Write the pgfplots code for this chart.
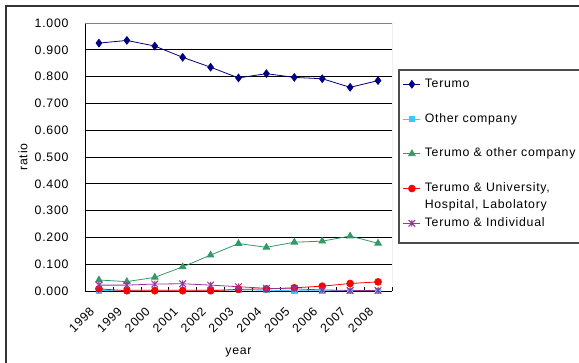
\documentclass[border=0pt]{standalone}
\usepackage{fontspec}
\setmainfont{Liberation Sans}[LetterSpace=6]
\usepackage{pgfplots}
\pgfplotsset{compat=1.18}
\definecolor{cNavy}{HTML}{000080}
\definecolor{cCyan}{HTML}{33CCFF}
\definecolor{cGreen}{HTML}{339966}
\definecolor{cRed}{HTML}{FF0000}
\definecolor{cPurple}{HTML}{993399}
\pgfdeclareplotmark{xstar}{%
 \pgfpathmoveto{\pgfqpoint{-\pgfplotmarksize}{-\pgfplotmarksize}}\pgfpathlineto{\pgfqpoint{\pgfplotmarksize}{\pgfplotmarksize}}%
 \pgfpathmoveto{\pgfqpoint{-\pgfplotmarksize}{\pgfplotmarksize}}\pgfpathlineto{\pgfqpoint{\pgfplotmarksize}{-\pgfplotmarksize}}%
 \pgfpathmoveto{\pgfqpoint{0pt}{-\pgfplotmarksize}}\pgfpathlineto{\pgfqpoint{0pt}{\pgfplotmarksize}}%
 \pgfusepathqstroke}
\begin{document}
\begin{tikzpicture}
\useasboundingbox (0,0) rectangle (579bp,363bp);
\clip (0,0) rectangle (579bp,363bp);
\draw[line width=1.2bp, black!80] (6bp,-10bp) -- (6bp,357bp) -- (600bp,357bp);
\draw[line width=1.2bp, black!70] (399bp,120bp) rectangle (600bp,293bp);
\begin{axis}[
  at={(85bp,72bp)}, anchor=south west, scale only axis,
  width=307bp, height=268bp,
  xmin=-0.5, xmax=10.5, ymin=0, ymax=1,
  axis x line*=bottom, axis y line*=left,
  axis line style={-, black, line width=0.9bp},
  font=\fontsize{12.3bp}{14bp}\selectfont,
  /pgf/number format/assume math mode=true,
  xtick={0,...,10},
  xticklabels={1998,1999,2000,2001,2002,2003,2004,2005,2006,2007,2008},
  minor xtick={-0.5,0.5,...,10.5},
  major x tick style={draw=none},
  minor x tick style={black, line width=0.6bp},
  minor tick length=4bp,
  tick align=inside,
  ytick={0,0.1,0.2,0.3,0.4,0.5,0.6,0.7,0.8,0.9,1.0},
  ytick style={draw=none},
  ymajorgrids, grid style={black, line width=0.6bp},
  yticklabel style={anchor=east, xshift=-13bp, /pgf/number format/fixed, /pgf/number format/fixed zerofill, /pgf/number format/precision=3},
  xticklabel style={xshift=-10bp, yshift=-15bp, rotate=45, anchor=north east, inner sep=0pt},
  xlabel={year}, ylabel={ratio},
  xlabel style={at={(rel axis cs:0.5,0)}, anchor=center, yshift=-61bp},
  ylabel style={at={(rel axis cs:0,0.5)}, anchor=center, yshift=62bp},
  legend style={at={(1.0358,0.7937)}, anchor=north west, draw=none, fill=none,
    inner sep=0pt, outer sep=0pt, row sep=22.75bp, column sep=4bp,
    font=\fontsize{12.3bp}{17bp}\selectfont,
    nodes={inner sep=0pt, text height=9bp, text depth=3bp}},
  legend cell align=left,
  every axis plot/.append style={line width=0.8bp},
]
\addplot[cNavy, mark=diamond*, mark size=3.8bp] coordinates {(0,0.925)(1,0.935)(2,0.914)(3,0.872)(4,0.835)(5,0.795)(6,0.811)(7,0.797)(8,0.792)(9,0.760)(10,0.785)};
\addlegendentry{Terumo}
\addplot[cCyan, mark=square*, mark size=2.6bp] coordinates {(0,0.002)(1,0.003)(2,0.004)(3,0.004)(4,0.004)(5,0.004)(6,0.003)(7,0.001)(8,0.001)(9,0.001)(10,0.001)};
\addlegendentry{Other company}
\addplot[cGreen, mark=triangle*, mark size=3.8bp] coordinates {(0,0.041)(1,0.035)(2,0.051)(3,0.090)(4,0.134)(5,0.177)(6,0.163)(7,0.182)(8,0.186)(9,0.205)(10,0.178)};
\addlegendentry{Terumo \& other company}
\addplot[cRed, mark=*, mark size=3.4bp] coordinates {(0,0.008)(1,0.001)(2,0.001)(3,0.001)(4,0.001)(5,0.006)(6,0.008)(7,0.012)(8,0.018)(9,0.028)(10,0.034)};
\addlegendentry{\smash{\parbox[t]{200bp}{Terumo \& University,\\Hospital, Labolatory}}}
\addplot[cPurple, mark=xstar, mark size=3.3bp, mark options={line width=1bp}] coordinates {(0,0.022)(1,0.022)(2,0.026)(3,0.027)(4,0.022)(5,0.016)(6,0.010)(7,0.008)(8,0.004)(9,0.002)(10,0.002)};
\addlegendentry{Terumo \& Individual}
\draw[gray, line width=0.9bp] (rel axis cs:0,1) -- (rel axis cs:1,1) -- (rel axis cs:1,0);
\end{axis}
\end{tikzpicture}
\end{document}
